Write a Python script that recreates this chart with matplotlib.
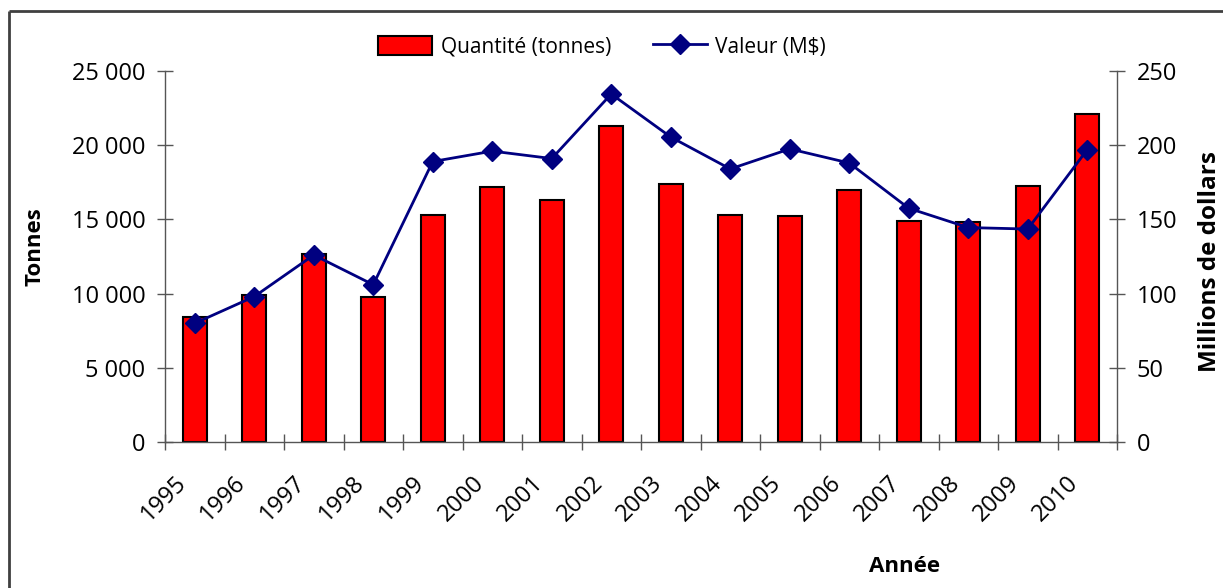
import numpy as np
import matplotlib
matplotlib.use("Agg")
import matplotlib.pyplot as plt
from matplotlib.lines import Line2D
from matplotlib.ticker import FuncFormatter, FixedLocator
from matplotlib.transforms import ScaledTranslation

plt.rcParams['font.family'] = ['Open Sans', 'DejaVu Sans']

# data
years = ['1995', '1996', '1997', '1998', '1999', '2000', '2001', '2002',
         '2003', '2004', '2005', '2006', '2007', '2008', '2009', '2010']
tonnes = [8400, 9900, 12700, 9770, 15300, 17200, 16300, 21300,
          17400, 15300, 15200, 17000, 14900, 14820, 17250, 22100]
valeur = [80, 98, 126, 106, 189, 196, 191, 234.5,
          205.5, 184, 197.5, 188, 157.5, 144.5, 143.5, 197]

x = np.arange(len(years))

fig = plt.figure(figsize=(12.23, 5.88), dpi=100)
ax = fig.add_axes([165/1223, 1-442/588, (1117-165)/1223, (442-71)/588])
ax2 = ax.twinx()

bars = ax.bar(x, tonnes, width=0.4, color='#ff0000', edgecolor='black',
              linewidth=1.5, label='Quantité (tonnes)', zorder=2)
line, = ax2.plot(x, valeur, color='#000080', lw=2, marker='D', ms=10,
                 label='Valeur (M$)', zorder=3)

ax.set_xlim(-0.5, len(years) - 0.5)
ax.set_ylim(0, 25000)
ax2.set_ylim(0, 250)
ax.set_yticks(np.arange(0, 25001, 5000))
ax2.set_yticks(np.arange(0, 251, 50))
ax.yaxis.set_major_formatter(FuncFormatter(lambda v, p: f'{int(v):,}'.replace(',', ' ')))

for a in (ax, ax2):
    a.spines['top'].set_visible(False)
    for s in ('left', 'right', 'bottom'):
        a.spines[s].set_color('#555555')
        a.spines[s].set_linewidth(1)
    a.tick_params(axis='y', direction='inout', length=12, width=1,
                  color='#555555', labelsize=17, pad=8)
ax.spines['right'].set_visible(False)
ax2.spines['left'].set_visible(False)
ax2.spines['bottom'].set_visible(False)

# category labels at centres, tick marks at boundaries
ax.set_xticks(x)
ax.set_xticklabels(years, rotation=45, ha='right', va='center',
                   rotation_mode='anchor', fontsize=17)
ax.tick_params(axis='x', which='major', length=0, pad=27)
ax.xaxis.set_minor_locator(FixedLocator(np.arange(-0.5, len(years), 1)))
ax.tick_params(axis='x', which='minor', direction='inout', length=12,
               width=1, color='#555555')
off = ScaledTranslation(-0.12, 0, fig.dpi_scale_trans)
for lab in ax.get_xticklabels():
    lab.set_transform(lab.get_transform() + off)

fig.text(35/1223, 1-247/588, 'Tonnes', rotation=90, ha='center', va='center',
         fontsize=16, fontweight='bold')
fig.text(1210/1223, 1-262/588, 'Millions de dollars', rotation=90, ha='center',
         va='center', fontsize=17.5, fontweight='bold')
fig.text(905/1223, 1-567/588, 'Année', ha='center', va='center',
         fontsize=16, fontweight='bold')

fig.legend([bars, line], ['Quantité (tonnes)', 'Valeur (M$)'], ncol=2,
           loc='center', bbox_to_anchor=(602/1223, 1-47/588), frameon=False,
           fontsize=15, handlelength=2.6, handleheight=1.0, columnspacing=2.0,
           handletextpad=0.4)

# outer frame, only top and left edges are inside the picture
fy = 1 - 11/588
fx = 9/1223
fig.add_artist(Line2D([fx, 1.05], [fy, fy], transform=fig.transFigure,
                      color='#404040', lw=2, solid_capstyle='butt'))
fig.add_artist(Line2D([fx, fx], [-0.05, fy], transform=fig.transFigure,
                      color='#404040', lw=2, solid_capstyle='butt'))

fig.savefig('out.png', dpi=100)
